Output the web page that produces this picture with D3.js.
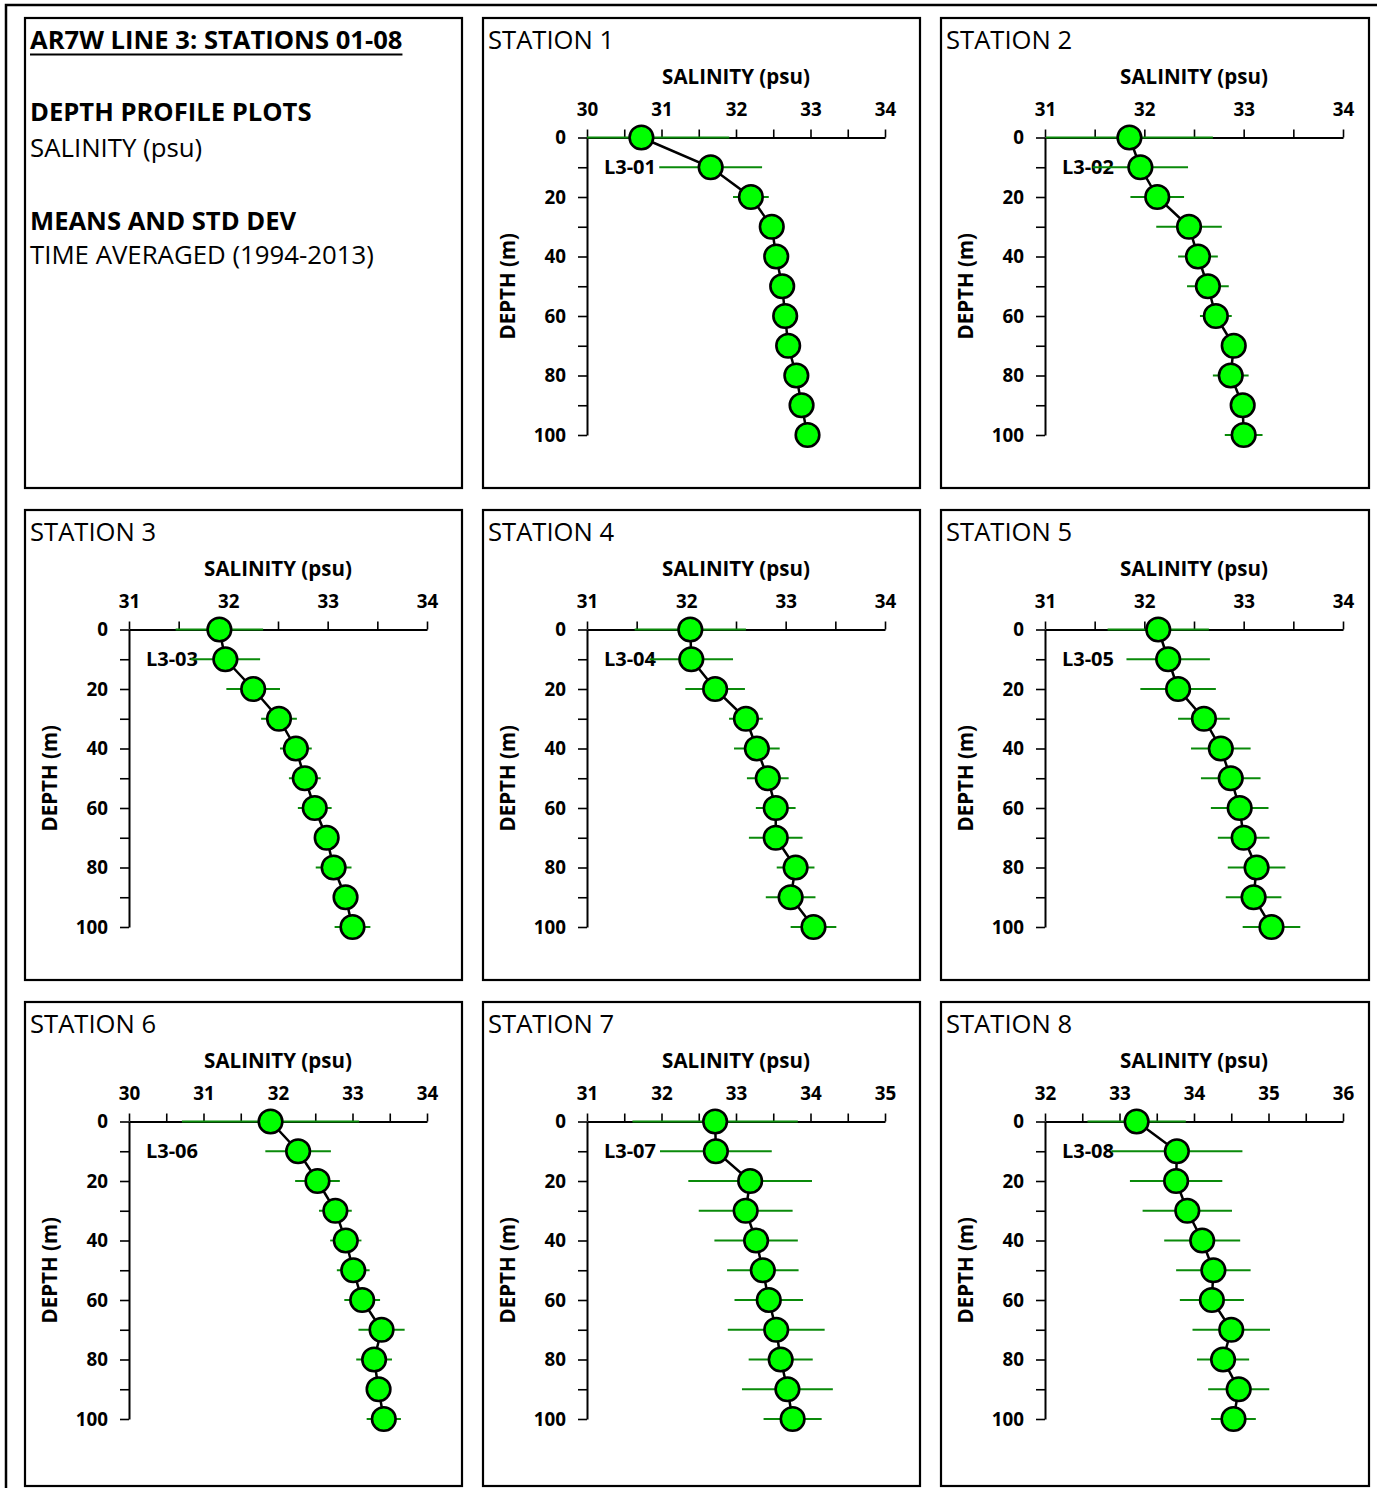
<!DOCTYPE html>
<html>
<head>
<meta charset="utf-8">
<script src="https://cdn.jsdelivr.net/npm/d3@7"></script>
<style>
  body { margin: 0; background: #fff; }
  svg { display: block; font-family: "Open Sans", sans-serif; }
</style>
</head>
<body>
<svg id="chart" width="1377" height="1488"></svg>
<script>
// Sampling depths (m), shared by every station
const depths = [0, 10, 20, 30, 40, 50, 60, 70, 80, 90, 100];

const stationTitles = ["STATION 1", "STATION 2", "STATION 3", "STATION 4",
                       "STATION 5", "STATION 6", "STATION 7", "STATION 8"];
const stationCodes = ["L3-01", "L3-02", "L3-03", "L3-04",
                      "L3-05", "L3-06", "L3-07", "L3-08"];
// Salinity axis range for each station (psu)
const salinityRanges = [[30, 34], [31, 34], [31, 34], [31, 34],
                        [31, 34], [30, 34], [31, 35], [32, 36]];

// Time-averaged mean salinity (psu) at each depth
const meanL301 = [30.73, 31.66, 32.20, 32.48, 32.54, 32.62, 32.66, 32.70, 32.81, 32.88, 32.96];
const meanL302 = [31.85, 31.96, 32.13, 32.45, 32.54, 32.64, 32.72, 32.90, 32.87, 32.99, 33.00];
const meanL303 = [31.91, 31.97, 32.25, 32.51, 32.68, 32.77, 32.87, 32.99, 33.06, 33.18, 33.25];
const meanL304 = [32.04, 32.05, 32.29, 32.60, 32.71, 32.82, 32.90, 32.90, 33.10, 33.05, 33.28];
const meanL305 = [32.14, 32.24, 32.34, 32.60, 32.77, 32.87, 32.96, 33.00, 33.13, 33.10, 33.28];
const meanL306 = [31.90, 32.27, 32.53, 32.77, 32.91, 33.01, 33.13, 33.39, 33.29, 33.35, 33.42];
const meanL307 = [32.72, 32.73, 33.19, 33.13, 33.27, 33.36, 33.44, 33.54, 33.60, 33.69, 33.76];
const meanL308 = [33.23, 33.77, 33.76, 33.91, 34.11, 34.26, 34.24, 34.50, 34.39, 34.60, 34.53];

// Standard deviation of salinity (psu) at each depth
const sdL301 = [1.18, 0.69, 0.24, 0.06, 0.06, 0.05, 0.05, 0.05, 0.05, 0.05, 0.05];
const sdL302 = [0.84, 0.48, 0.27, 0.33, 0.20, 0.21, 0.16, 0.10, 0.18, 0.08, 0.19];
const sdL303 = [0.44, 0.35, 0.27, 0.18, 0.16, 0.16, 0.17, 0.10, 0.18, 0.10, 0.18];
const sdL304 = [0.56, 0.42, 0.30, 0.17, 0.23, 0.21, 0.20, 0.27, 0.19, 0.25, 0.23];
const sdL305 = [0.51, 0.42, 0.38, 0.26, 0.30, 0.30, 0.29, 0.26, 0.29, 0.28, 0.29];
const sdL306 = [1.19, 0.44, 0.30, 0.22, 0.21, 0.22, 0.24, 0.31, 0.24, 0.10, 0.23];
const sdL307 = [1.11, 0.75, 0.83, 0.63, 0.56, 0.48, 0.46, 0.65, 0.43, 0.61, 0.39];
const sdL308 = [0.66, 0.88, 0.62, 0.60, 0.51, 0.50, 0.43, 0.52, 0.35, 0.41, 0.30];

const meanSeries = [meanL301, meanL302, meanL303, meanL304, meanL305, meanL306, meanL307, meanL308];
const sdSeries = [sdL301, sdL302, sdL303, sdL304, sdL305, sdL306, sdL307, sdL308];

const headerLines = [
  { text: "AR7W LINE 3: STATIONS 01-08", bold: true, underline: true },
  { text: "DEPTH PROFILE PLOTS", bold: true },
  { text: "SALINITY (psu)", bold: false },
  { text: "MEANS AND STD DEV", bold: true },
  { text: "TIME AVERAGED (1994-2013)", bold: false }
];

// ---- layout of the 3 x 3 grid of framed panels ----
const colX = [25, 483, 941];
const colW = [437, 437, 428];
const rowY = [18, 510, 1002];
const rowH = [470, 470, 484];

const svg = d3.select("#chart");

// outer frame (top and left edges)
svg.append("path")
  .attr("d", "M6,1488 V5 H1377")
  .attr("fill", "none").attr("stroke", "#000").attr("stroke-width", 2.5);

function panelFrame(col, row) {
  const g = svg.append("g");
  g.append("rect")
    .attr("x", colX[col]).attr("y", rowY[row])
    .attr("width", colW[col]).attr("height", rowH[row])
    .attr("fill", "#fff").attr("stroke", "#000").attr("stroke-width", 2.2);
  return g;
}

// ---- header panel ----
{
  const g = panelFrame(0, 0);
  const baselines = [49, 121, 157, 230, 264];
  headerLines.forEach((ln, i) => {
    const t = g.append("text")
      .attr("x", 30).attr("y", baselines[i])
      .attr("font-size", ln.bold ? 25.6 : 25.8)
      .attr("font-weight", ln.bold ? 700 : 400)
      .attr("fill", "#000")
      .text(ln.text);
    if (ln.underline) {
      const w = t.node().getComputedTextLength();
      g.append("line")
        .attr("x1", 30).attr("x2", 30 + w)
        .attr("y1", 54.5).attr("y2", 54.5)
        .attr("stroke", "#000").attr("stroke-width", 1.8);
    }
  });
}

// ---- station profile panels ----
stationTitles.forEach((title, s) => {
  const cell = s + 1;
  const col = cell % 3, row = Math.floor(cell / 3);
  const left = colX[col], top = rowY[row];
  const g = panelFrame(col, row);

  const [lo, hi] = salinityRanges[s];
  const x = d3.scaleLinear().domain([lo, hi]).range([left + 104, left + 402]);
  const y = d3.scaleLinear().domain([0, 100]).range([top + 119.5, top + 417]);

  const rows = depths.map((d, i) => ({ depth: d, mean: meanSeries[s][i], sd: sdSeries[s][i] }));

  g.append("text")
    .attr("x", left + 5).attr("y", top + 31)
    .attr("font-size", 25.6).attr("fill", "#000")
    .text(title);

  // salinity axis on top
  const xAxis = d3.axisTop(x)
    .tickValues(d3.range(lo, hi + 0.001, 0.5))
    .tickFormat(v => Number.isInteger(v) ? v : "")
    .tickSize(8).tickPadding(14).tickSizeOuter(0);
  const gx = g.append("g").attr("transform", `translate(0,${y(0)})`).call(xAxis);

  // depth axis on the left
  const yAxis = d3.axisLeft(y)
    .tickValues(d3.range(0, 101, 10))
    .tickFormat(v => v % 20 === 0 ? v : "")
    .tickSize(9).tickPadding(12).tickSizeOuter(0);
  const gy = g.append("g").attr("transform", `translate(${x(lo)},0)`).call(yAxis);

  [gx, gy].forEach(a => {
    a.attr("font-family", null).attr("font-size", null);
    a.select(".domain").attr("stroke", "#000").attr("stroke-width", 2);
    a.selectAll(".tick line").attr("stroke", "#000").attr("stroke-width", 1.6);
    a.selectAll(".tick text")
      .attr("fill", "#000").attr("font-size", 18.8).attr("font-weight", 700);
  });

  // axis titles
  g.append("text")
    .attr("x", (x.range()[0] + x.range()[1]) / 2).attr("y", y(0) - 54)
    .attr("text-anchor", "middle")
    .attr("font-size", 20.5).attr("font-weight", 700).attr("fill", "#000")
    .text("SALINITY (psu)");
  const yc = (y.range()[0] + y.range()[1]) / 2;
  g.append("text")
    .attr("transform", `translate(${left + 32},${yc}) rotate(-90)`)
    .attr("text-anchor", "middle")
    .attr("font-size", 20.5).attr("font-weight", 700).attr("fill", "#000")
    .text("DEPTH (m)");

  // station code label beside the 10 m point
  g.append("text")
    .attr("x", x(lo) + 69).attr("y", y(10)).attr("dy", "0.35em")
    .attr("text-anchor", "end")
    .attr("font-size", 20).attr("font-weight", 700).attr("fill", "#000")
    .text(stationCodes[s]);

  // standard deviation bars, limited to the axis range
  g.selectAll(".sd").data(rows).join("line")
    .attr("x1", d => x(Math.max(lo, d.mean - d.sd)))
    .attr("x2", d => x(Math.min(hi, d.mean + d.sd)))
    .attr("y1", d => y(d.depth)).attr("y2", d => y(d.depth))
    .attr("stroke", "#0a8a0a").attr("stroke-width", 1.8);

  // mean profile
  g.append("path").datum(rows)
    .attr("d", d3.line().x(d => x(d.mean)).y(d => y(d.depth)))
    .attr("fill", "none").attr("stroke", "#000").attr("stroke-width", 2.5);

  g.selectAll(".pt").data(rows).join("circle")
    .attr("cx", d => x(d.mean)).attr("cy", d => y(d.depth))
    .attr("r", 11.8)
    .attr("fill", "#00ff00").attr("stroke", "#000").attr("stroke-width", 2.6);
});
</script>
</body>
</html>
